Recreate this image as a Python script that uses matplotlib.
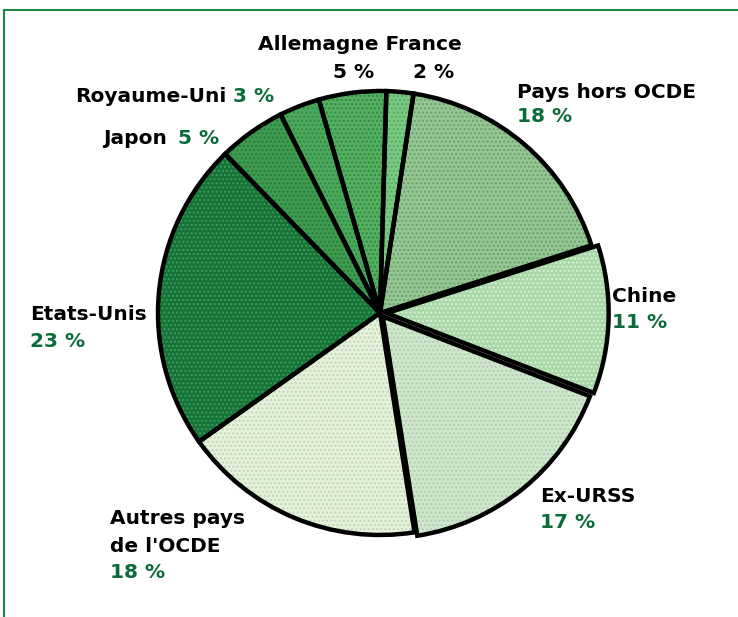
import matplotlib.pyplot as plt
from matplotlib.lines import Line2D

# part de chaque pays / zone (%), dans le sens des aiguilles d'une montre
labels = ["Allemagne", "France", "Pays hors OCDE", "Chine", "Ex-URSS",
          "Autres pays\nde l'OCDE", "Etats-Unis", "Japon", "Royaume-Uni"]
values = [5, 2, 18, 11, 17, 18, 23, 5, 3]
colors = ["#55b062", "#7cc885", "#95c795", "#a9d8a8", "#cde9c9",
          "#e3f4d8", "#17723a", "#3e9c50", "#4ba85c"]
hatch_col = ["#2f8a40", "#4fae5e", "#6a9e6a", "#d8f2d4", "#b8c8b8",
             "#c8d0c0", "#3aa055", "#2a7a3a", "#2f8a45"]
explode = [0, 0, 0, 0.03, 0.02, 0, 0, 0, 0]

W, H = 738, 617
fig = plt.figure(figsize=(W / 100, H / 100), dpi=100)

# cadre vert
fig.add_artist(Line2D([4 / W, 4 / W], [0, 1 - 10 / H], transform=fig.transFigure,
                      color="#1a8a45", lw=1.5))
fig.add_artist(Line2D([4 / W, 1], [1 - 10 / H, 1 - 10 / H], transform=fig.transFigure,
                      color="#1a8a45", lw=1.5))

cx, cy, r = 380, 313, 222
ax = fig.add_axes([(cx - r) / W, (H - cy - r) / H, 2 * r / W, 2 * r / H])

wedges, _ = ax.pie(values, colors=colors, startangle=106, counterclock=False,
                   explode=explode, radius=1,
                   wedgeprops=dict(linewidth=0))
for w, hc in zip(wedges, hatch_col):
    w.set_hatch("....")
    w.set_edgecolor(hc)
    w.set_linewidth(0)
# contours noirs
ax.pie(values, colors=["none"] * len(values), startangle=106,
       counterclock=False, explode=explode, radius=1,
       wedgeprops=dict(linewidth=3.2, edgecolor="black", fill=False))
ax.set_xlim(-1.0, 1.0)
ax.set_ylim(-1.0, 1.0)
ax.set_aspect("auto")
ax.axis("off")

green = "#0b6b3a"
fs = 14.5


def txt(x, y, s, c="black", ha="left"):
    fig.text(x / W, 1 - y / H, s, color=c, fontsize=fs, fontweight="bold",
             ha=ha, va="center", linespacing=1.2)


pct = [f"{v} %" for v in values]
txt(360, 44, "Allemagne France", ha="center")
txt(333, 72, pct[0])
txt(413, 72, pct[1])
txt(517, 92, labels[2])
txt(517, 117, pct[2], green)
txt(75, 97, labels[8])
txt(233, 97, pct[8], green)
txt(103, 139, labels[7])
txt(178, 139, pct[7], green)
txt(30, 315, labels[6])
txt(30, 342, pct[6], green)
txt(612, 297, labels[3])
txt(612, 323, pct[3], green)
txt(540, 497, labels[4])
txt(540, 522, pct[4], green)
txt(110, 519, "Autres pays")
txt(110, 546, "de l'OCDE")
txt(110, 573, pct[5], green)

fig.savefig("out.png", dpi=100)
